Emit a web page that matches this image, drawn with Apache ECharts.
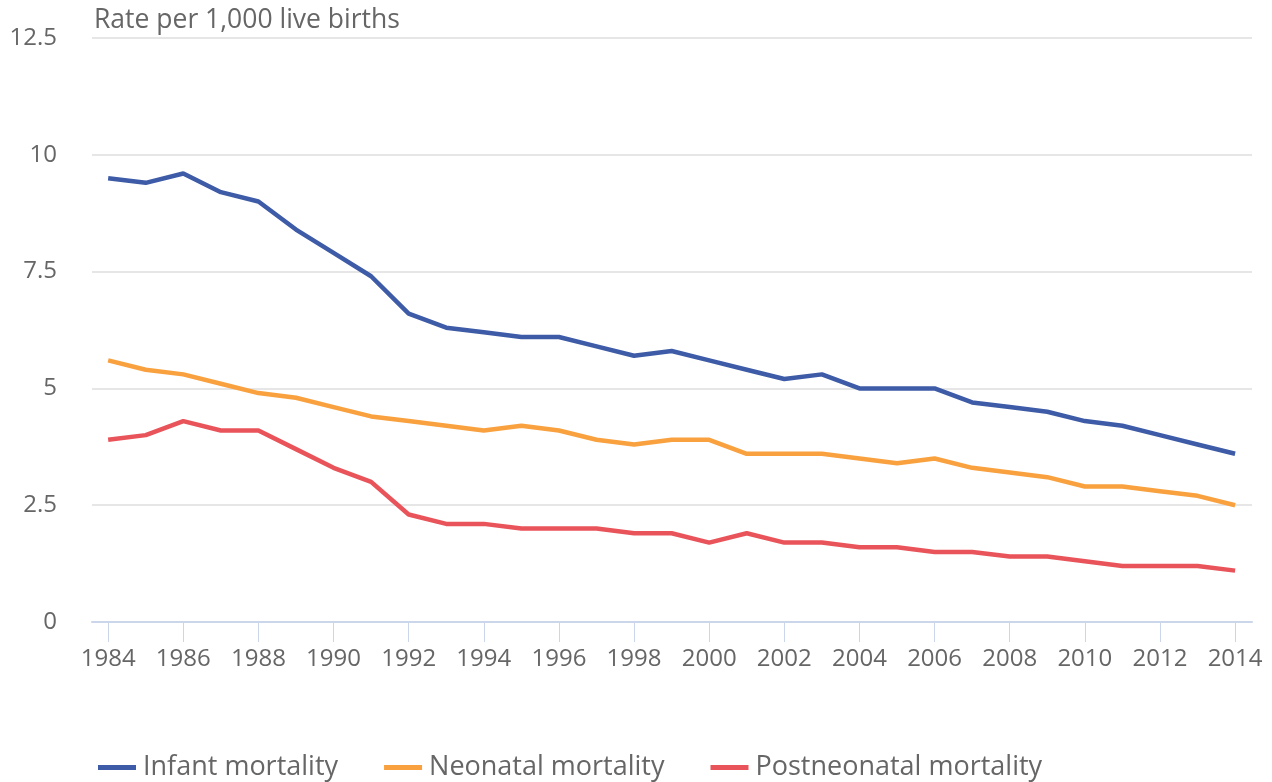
<!DOCTYPE html>
<html>
<head>
<meta charset="utf-8">
<script src="https://cdn.jsdelivr.net/npm/echarts@6/dist/echarts.min.js"></script>
<style>
  html, body { margin: 0; padding: 0; background: #fff; }
  #chart { width: 1272px; height: 782px; }
</style>
</head>
<body>
<div id="chart"></div>
<script>
// 年份与三条死亡率序列（每千活产）
const years = [1984, 1985, 1986, 1987, 1988, 1989, 1990, 1991, 1992, 1993,
               1994, 1995, 1996, 1997, 1998, 1999, 2000, 2001, 2002, 2003,
               2004, 2005, 2006, 2007, 2008, 2009, 2010, 2011, 2012, 2013, 2014];
const infant = [9.5, 9.4, 9.6, 9.2, 9.0, 8.4, 7.9, 7.4, 6.6, 6.3,
                6.2, 6.1, 6.1, 5.9, 5.7, 5.8, 5.6, 5.4, 5.2, 5.3,
                5.0, 5.0, 5.0, 4.7, 4.6, 4.5, 4.3, 4.2, 4.0, 3.8, 3.6];
const neonatal = [5.6, 5.4, 5.3, 5.1, 4.9, 4.8, 4.6, 4.4, 4.3, 4.2,
                  4.1, 4.2, 4.1, 3.9, 3.8, 3.9, 3.9, 3.6, 3.6, 3.6,
                  3.5, 3.4, 3.5, 3.3, 3.2, 3.1, 2.9, 2.9, 2.8, 2.7, 2.5];
const postneonatal = [3.9, 4.0, 4.3, 4.1, 4.1, 3.7, 3.3, 3.0, 2.3, 2.1,
                      2.1, 2.0, 2.0, 2.0, 1.9, 1.9, 1.7, 1.9, 1.7, 1.7,
                      1.6, 1.6, 1.5, 1.5, 1.4, 1.4, 1.3, 1.2, 1.2, 1.2, 1.1];
const seriesNames = ['Infant mortality', 'Neonatal mortality', 'Postneonatal mortality'];
const xTicks = [1984, 1986, 1988, 1990, 1992, 1994, 1996, 1998, 2000,
                2002, 2004, 2006, 2008, 2010, 2012, 2014];

const colors = ['#3d5ba6', '#f9a13f', '#e9545a'];
const textColor = '#666666';
const fontFamily = '"Open Sans", "Noto Sans", sans-serif';

// 把年份和值配成 [x, y]
function pairs(values) {
    return years.map((y, i) => [y, values[i]]);
}

const chart = echarts.init(document.getElementById('chart'));

const option = {
    animation: false,
    color: colors,
    title: {
        text: 'Rate per 1,000 live births',
        left: 89,
        top: 2,
        textStyle: { color: textColor, fontSize: 26.5, fontWeight: 'normal', fontFamily: fontFamily }
    },
    grid: { left: 92, right: 20, top: 38, bottom: 160 },
    xAxis: {
        type: 'value',
        min: 1983.57,
        max: 2014.45,
        axisLine: { show: true, lineStyle: { color: '#ccd6eb', width: 2 } },
        axisTick: { show: true, customValues: xTicks, length: 20, lineStyle: { color: '#ccd6eb', width: 1 } },
        axisLabel: {
            customValues: xTicks,
            formatter: v => String(v),
            margin: 25,
            color: textColor,
            fontSize: 24,
            fontFamily: fontFamily
        },
        splitLine: { show: false }
    },
    yAxis: {
        type: 'value',
        min: 0,
        max: 12.5,
        interval: 2.5,
        axisLine: { show: false },
        axisTick: { show: false },
        axisLabel: { margin: 35, color: textColor, fontSize: 24, fontFamily: fontFamily },
        splitLine: { lineStyle: { color: '#e6e6e6', width: 2 } }
    },
    legend: {
        left: 93,
        top: 749,
        itemWidth: 38,
        itemHeight: 5,
        itemGap: 46,
        icon: 'rect',
        textStyle: { color: textColor, fontSize: 27, fontFamily: fontFamily, padding: [0, 0, 0, 2] },
        data: seriesNames
    },
    series: [
        { name: seriesNames[0], type: 'line', data: pairs(infant) },
        { name: seriesNames[1], type: 'line', data: pairs(neonatal) },
        { name: seriesNames[2], type: 'line', data: pairs(postneonatal) }
    ].map(s => Object.assign(s, {
        showSymbol: false,
        symbol: 'none',
        lineStyle: { width: 4.5 }
    }))
};

chart.setOption(option);
</script>
</body>
</html>
